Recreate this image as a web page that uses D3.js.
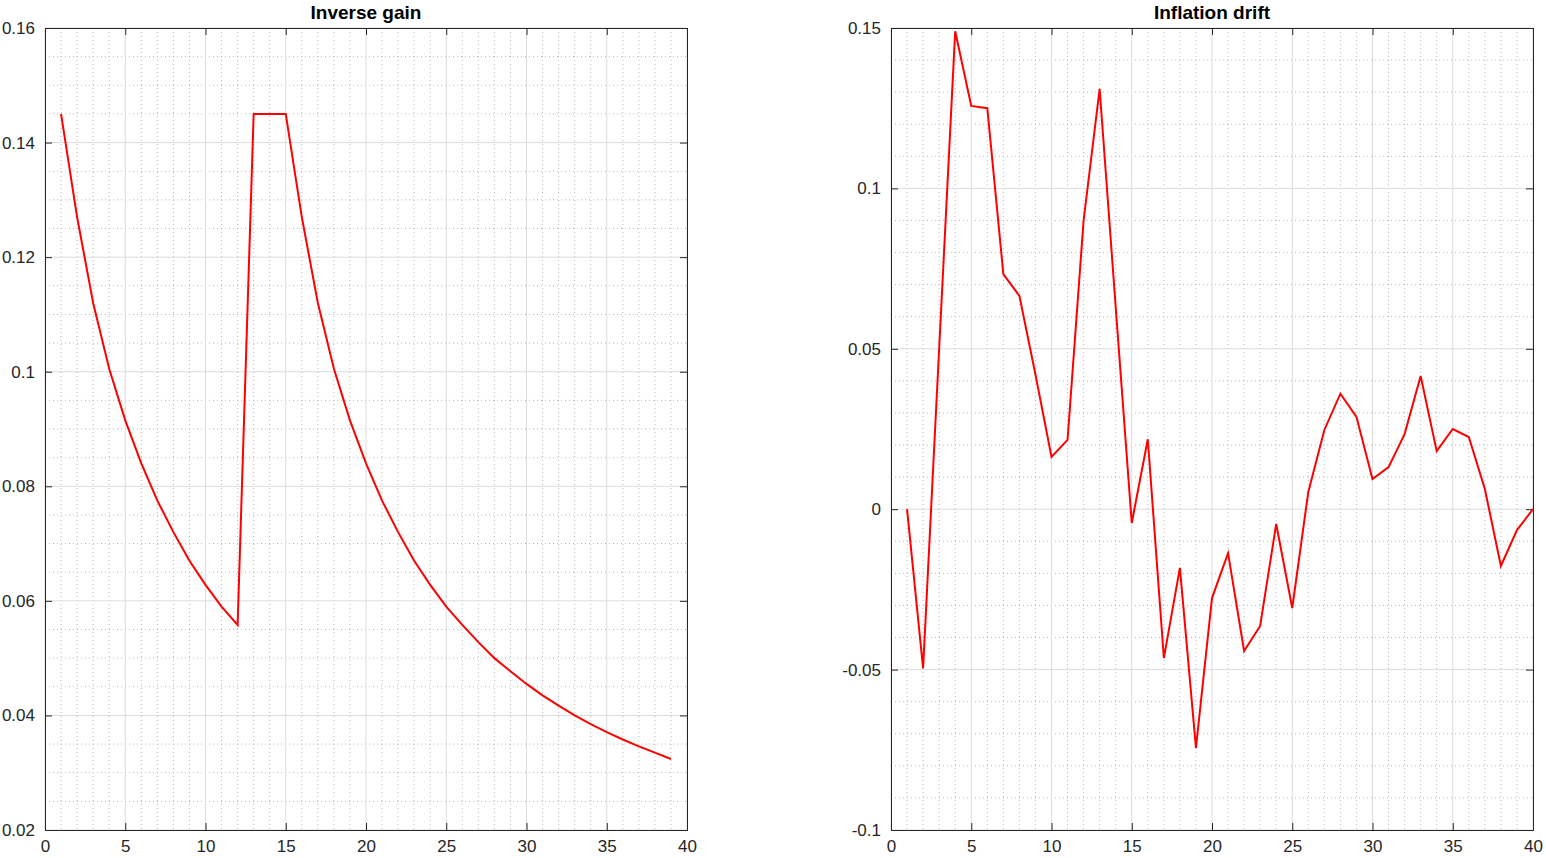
<!DOCTYPE html>
<html><head><meta charset="utf-8">
<script src="https://cdn.jsdelivr.net/npm/d3@7"></script>
<style>body{margin:0;background:#fff}svg{font-family:"Liberation Sans",Arial,sans-serif}</style>
</head><body><svg id="c" width="1546" height="858"></svg>
<script>
const gainX = d3.range(1, 40);
const gainY = [0.145,0.127,0.112,0.1005,0.0915,0.084,0.0775,0.072,0.067,0.0628,0.059,0.0558,
  0.145,0.145,0.145,0.127,0.112,0.1005,0.0915,0.084,0.0775,0.072,0.067,0.0628,0.059,0.0558,
  0.0528,0.050,0.0477,0.0455,0.0435,0.0417,0.040,0.0385,0.0371,0.0358,0.0346,0.0335,0.0324];
const driftX = d3.range(1, 41);
const driftY = [0,-0.0496,0.05,0.149,0.1257,0.125,0.0733,0.0665,0.042,0.0163,0.0216,0.090,0.131,0.063,
  -0.0043,0.0218,-0.0464,-0.0183,-0.0744,-0.0277,-0.0137,-0.0442,-0.0364,-0.0046,-0.0308,0.0054,
  0.0247,0.036,0.0288,0.0094,0.0131,0.0234,0.0415,0.0181,0.025,0.0225,0.0063,-0.0177,-0.0065,0];
const xTicks = d3.range(0, 41, 5);
const gainTicks = [0.02,0.04,0.06,0.08,0.1,0.12,0.14,0.16];
const driftTicks = [-0.1,-0.05,0,0.05,0.1,0.15];

const svg = d3.select('#c');
function panel(o) {
  const g = svg.append('g');
  const x = d3.scaleLinear().domain([0, 40]).range([o.x0, o.x1]);
  const y = d3.scaleLinear().domain(o.yd).range([o.y1, o.y0]);
  // minor grid
  g.selectAll('.mx').data(d3.range(0, 41, 1).filter(v => v % 5)).join('line')
    .attr('x1', x).attr('x2', x).attr('y1', o.y0).attr('y2', o.y1)
    .attr('stroke', '#b8b8b8').attr('stroke-width', 1).attr('stroke-dasharray', '1,3');
  const minorY = d3.range(0, Math.round((o.yd[1]-o.yd[0])/o.ym)+1).map(i => o.yd[0] + i*o.ym)
    .filter(v => !o.yt.some(t => Math.abs(t - v) < 1e-9));
  g.selectAll('.my').data(minorY).join('line')
    .attr('y1', y).attr('y2', y).attr('x1', o.x0).attr('x2', o.x1)
    .attr('stroke', '#b8b8b8').attr('stroke-width', 1).attr('stroke-dasharray', '1,3');
  // major grid
  g.selectAll('.gx').data(xTicks).join('line')
    .attr('x1', x).attr('x2', x).attr('y1', o.y0).attr('y2', o.y1).attr('stroke', '#dcdcdc');
  g.selectAll('.gy').data(o.yt).join('line')
    .attr('y1', y).attr('y2', y).attr('x1', o.x0).attr('x2', o.x1).attr('stroke', '#dcdcdc');
  // axes
  g.append('g').attr('transform', `translate(0,${o.y1})`)
    .call(d3.axisBottom(x).tickValues(xTicks).tickSize(-7).tickPadding(10).tickFormat(d3.format('d')));
  g.append('g').attr('transform', `translate(0,${o.y0})`)
    .call(d3.axisTop(x).tickValues(xTicks).tickSize(-7).tickFormat(''));
  g.append('g').attr('transform', `translate(${o.x0},0)`)
    .call(d3.axisLeft(y).tickValues(o.yt).tickSize(-7).tickPadding(10).tickFormat(d => String(+d.toFixed(3))));
  g.append('g').attr('transform', `translate(${o.x1},0)`)
    .call(d3.axisRight(y).tickValues(o.yt).tickSize(-7).tickFormat(''));
  g.selectAll('.domain').attr('stroke', '#262626');
  g.selectAll('.tick line').attr('stroke', '#262626');
  g.selectAll('.tick text').attr('font-size', 17).attr('fill', '#262626').attr('font-family', '"Liberation Sans",Arial,sans-serif');
  g.append('path').datum(o.xs.map((v, i) => [v, o.ys[i]]))
    .attr('d', d3.line().x(d => x(d[0])).y(d => y(d[1])))
    .attr('fill', 'none').attr('stroke', '#ff0000').attr('stroke-width', 2);
  g.append('text').attr('x', (o.x0 + o.x1) / 2).attr('y', o.y0 - 9).attr('text-anchor', 'middle')
    .attr('font-size', 19).attr('font-weight', 'bold').attr('fill', '#000').text(o.title);
}
panel({x0: 45, x1: 687, y0: 28, y1: 830, yd: [0.02, 0.16], yt: gainTicks, ym: 0.005,
  xs: gainX, ys: gainY, title: 'Inverse gain'});
panel({x0: 891, x1: 1533, y0: 28, y1: 830, yd: [-0.1, 0.15], yt: driftTicks, ym: 0.01,
  xs: driftX, ys: driftY, title: 'Inflation drift'});
</script></body></html>
